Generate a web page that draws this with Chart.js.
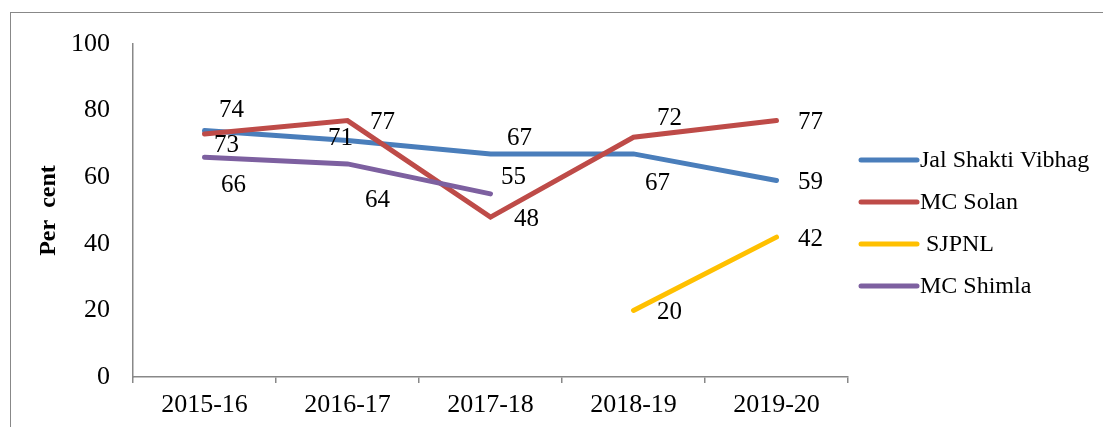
<!DOCTYPE html>
<html>
<head>
<meta charset="utf-8">
<script src="https://cdn.jsdelivr.net/npm/chart.js@4"></script>
<style>
  html, body { margin: 0; padding: 0; background: #fff; overflow: hidden; }
  #wrap { position: relative; width: 1103px; height: 427px; }
  #frame { position: absolute; left: 10px; top: 12px; width: 1200px; height: 500px; border: 1.3px solid #888; box-sizing: border-box; }
  canvas { position: absolute; left: 0; top: 0; }
</style>
</head>
<body>
<div id="wrap">
  <div id="frame"></div>
  <canvas id="c" width="1103" height="427"></canvas>
</div>
<script>
const categories = ['2015-16', '2016-17', '2017-18', '2018-19', '2019-20'];
const jalShakti = [74, 71, 67, 67, 59];
const mcSolan   = [73, 77, 48, 72, 77];
const sjpnl     = [null, null, null, 20, 42];
const mcShimla  = [66, 64, 55, null, null];
const seriesNames = ['Jal Shakti Vibhag', 'MC Solan', ' SJPNL', 'MC Shimla'];
const seriesColors = ['#4A7EBB', '#BE4B48', '#FFC000', '#7D60A0'];
const yTicks = [0, 20, 40, 60, 80, 100];

// data label offsets (dx, dy) relative to each point
const labelOffsets = [
  [[27,-22],[-7,-4],[29,-17],[24,28],[34,0]],
  [[22,10],[35,0],[36,0],[36,-21],[34,0]],
  [null,null,null,[36,0],[34,0]],
  [[29,26],[30,35],[23,-18],null,null]
];

const FONT = "'Liberation Serif', 'Times New Roman', serif";
const seriesData = [jalShakti, mcSolan, sjpnl, mcShimla];

const datasets = seriesData.map((d, i) => ({
  label: seriesNames[i],
  data: d,
  borderColor: seriesColors[i],
  backgroundColor: seriesColors[i],
  borderWidth: 5,
  borderCapStyle: 'round',
  borderJoinStyle: 'miter',
  pointRadius: 0,
  pointHoverRadius: 0,
  tension: 0,
  spanGaps: false,
  fill: false,
  order: seriesData.length - i
}));

const labelPlugin = {
  id: 'valueLabels',
  afterDatasetsDraw(chart) {
    const ctx = chart.ctx;
    ctx.save();
    ctx.font = '25px ' + FONT;
    ctx.fillStyle = '#000';
    ctx.textAlign = 'center';
    ctx.textBaseline = 'alphabetic';
    chart.data.datasets.forEach((ds, di) => {
      const meta = chart.getDatasetMeta(di);
      meta.data.forEach((pt, j) => {
        const v = ds.data[j];
        if (v === null || v === undefined) return;
        const off = labelOffsets[di][j] || [30, 0];
        ctx.fillText(String(v), pt.x + off[0], pt.y + off[1] + 8.5);
      });
    });
    ctx.restore();
  }
};

const legendPlugin = {
  id: 'customLegend',
  afterDraw(chart) {
    const ctx = chart.ctx;
    const area = chart.chartArea;
    ctx.save();
    ctx.font = '24px ' + FONT;
    ctx.textAlign = 'left';
    ctx.textBaseline = 'alphabetic';
    const x0 = area.right + 13;
    const lineLen = 56;
    const startY = 160;
    const gap = 42;
    chart.data.datasets.forEach((ds, i) => {
      const y = startY + i * gap;
      ctx.strokeStyle = ds.borderColor;
      ctx.lineWidth = 5;
      ctx.lineCap = 'round';
      ctx.beginPath();
      ctx.moveTo(x0, y);
      ctx.lineTo(x0 + lineLen, y);
      ctx.stroke();
      ctx.fillStyle = '#000';
      ctx.fillText(ds.label, x0 + lineLen + 3, y + 7);
    });
    ctx.restore();
  }
};

new Chart(document.getElementById('c'), {
  type: 'line',
  data: { labels: categories, datasets },
  options: {
    responsive: false,
    animation: false,
    events: [],
    layout: { padding: { left: 0, top: 44, right: 255, bottom: 0 } },
    plugins: { legend: { display: false }, tooltip: { enabled: false } },
    scales: {
      x: {
        offset: true,
        grid: { display: true, drawOnChartArea: false, drawTicks: true, tickLength: 6, offset: true, color: '#888', lineWidth: 1.5 },
        border: { display: true, color: '#888', width: 1.5 },
        ticks: { color: '#000', font: { family: FONT, size: 26 }, padding: 7, maxRotation: 0, autoSkip: false },
        afterFit(scale) { scale.height = 50; }
      },
      y: {
        min: 0, max: 100,
        afterBuildTicks(scale) { scale.ticks = yTicks.map(v => ({ value: v })); },
        grid: { display: false, drawTicks: false },
        border: { display: true, color: '#888', width: 1.5 },
        ticks: { color: '#000', font: { family: FONT, size: 26 }, padding: 23 },
        title: { display: true, text: 'Per  cent', color: '#000', font: { family: FONT, size: 24, weight: 'bold' }, padding: { top: 34, bottom: 0 } },
        afterFit(scale) { scale.width = 133; }
      }
    }
  },
  plugins: [labelPlugin, legendPlugin]
});
</script>
</body>
</html>
